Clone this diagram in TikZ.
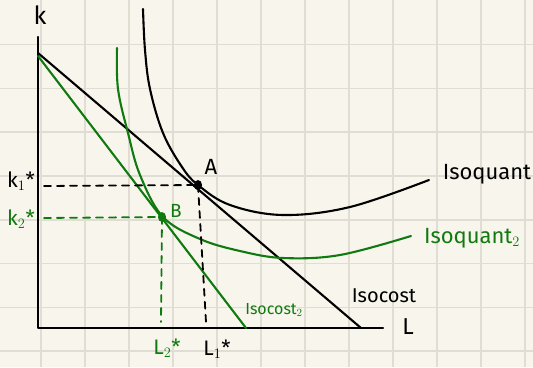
\documentclass[tikz,border=0pt]{standalone}
\usepackage{fontspec}
\setmainfont{Fira Sans}
\usetikzlibrary{shapes.geometric}
\begin{document}
\begin{tikzpicture}[x=1pt,y=-1pt,
  gridline/.style={draw=gridc,line width=1.6pt},
  pen/.style={line width=2.1pt,line cap=round,line join=round},
  dashk/.style={pen,line width=1.8pt,dash pattern=on 7pt off 6pt},
  dot/.style={ellipse,fill,inner sep=0pt,minimum width=8pt,minimum height=10pt},
  lab/.style={font=\fontsize{21}{24}\selectfont,inner sep=0pt}]
\definecolor{bgc}{RGB}{248,246,236}
\definecolor{gridc}{RGB}{224,222,212}
\definecolor{grn}{RGB}{16,122,16}
\useasboundingbox (0,0) rectangle (533,367);
\fill[bgc] (0,0) rectangle (533,367);
% grid
\foreach \i in {-1,...,11} \draw[gridline] ({41+44*\i},0) -- ({41+44*\i},367);
\foreach \j in {1,...,8} \draw[gridline] (0,{0.8+43.8*\j}) -- (533,{0.8+43.8*\j});
% axes
\coordinate (O) at (38,328);
\coordinate (Ktop) at (38,37);
\coordinate (Lend) at (383,328);
\draw[pen] (Ktop) -- (O) -- (Lend);
\node[lab,font=\fontsize{25}{28}\selectfont] (klab) at (40,15) {k};
\node[lab,font=\fontsize{23}{26}\selectfont] (Llab) at (408,327) {L};
% isocosts
\coordinate (c1s) at (38,53);
\coordinate (c1e) at (361,328);
\coordinate (c2s) at (38,56);
\coordinate (c2e) at (246,328);
\draw[pen] (c1s) -- (c1e);
\draw[pen,grn] (c2s) -- (c2e);
% isoquants
\draw[pen] plot[smooth,tension=0.6] coordinates {(143,9) (145,50) (150,89) (163,133) (182,167) (198,185) (230,205) (283,215) (350,207) (429,180)};
\draw[pen,grn] plot[smooth,tension=0.6] coordinates {(117,48) (118,89) (128,133) (140,175) (163,217) (200,239) (240,251) (283,258) (340,255) (411,236)};
% points
\node[dot] (A) at (198,185) {};
\node[dot,grn] (B) at (162,217) {};
\node[lab,font=\fontsize{22}{25}\selectfont] (Alab) at (211,167) {A};
\node[lab,grn,font=\fontsize{19}{22}\selectfont] (Blab) at (176,211) {B};
% dashed guides
\coordinate (k1a) at (44,186);
\coordinate (k2a) at (44,218);
\coordinate (L1a) at (206,322);
\coordinate (L2a) at (161,322);
\draw[dashk] (k1a) -- (A.center);
\draw[dashk] (A.center) -- (L1a);
\draw[dashk,grn] (k2a) -- (B.center);
\draw[dashk,grn] (B.center) -- (L2a);
% axis value labels
\node[lab] (k1lab) at (21,181) {k$_1$*};
\node[lab,grn] (k2lab) at (21,219) {k$_2$*};
\node[lab] (L1lab) at (217,349) {L$_1$*};
\node[lab,grn] (L2lab) at (167,348) {L$_2$*};
% curve labels
\node[lab,grn,font=\fontsize{16}{18}\selectfont] (ic2) at (274,310) {Isocost$_2$};
\node[lab,font=\fontsize{20}{22}\selectfont] (ic1) at (384,296) {Isocost};
\node[lab,font=\fontsize{22}{25}\selectfont] (iq1) at (487,174) {Isoquant};
\node[lab,grn,font=\fontsize{22}{25}\selectfont] (iq2) at (472,238) {Isoquant$_2$};
\end{tikzpicture}
\end{document}
